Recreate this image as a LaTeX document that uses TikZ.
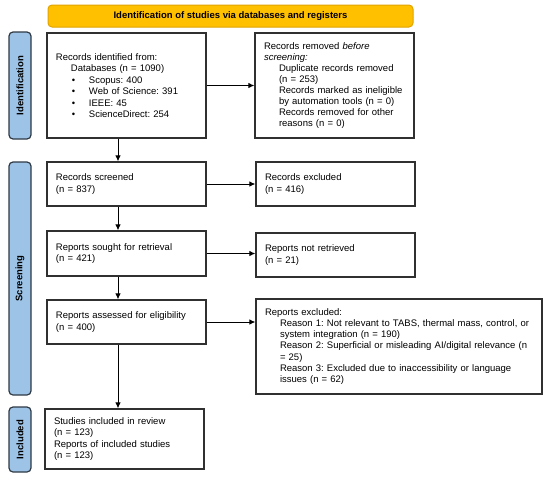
\documentclass[tikz,border=0pt]{standalone}
\usepackage{fontspec}
\setmainfont{Liberation Sans}
\usetikzlibrary{arrows.meta}
\definecolor{boxc}{HTML}{303030}
\definecolor{bannerfill}{HTML}{FFC000}
\definecolor{bannerdraw}{HTML}{E0A400}
\definecolor{sidefill}{HTML}{9DC3E6}
\definecolor{sidedraw}{HTML}{2F3A45}
\newcommand{\ind}{\hspace*{15pt}}
\newcommand{\bul}[1]{\hspace*{16pt}\makebox[17pt][l]{\textbullet}#1}
\frenchspacing
\begin{document}
\begin{tikzpicture}[x=1pt,y=-1pt,
  box/.style={draw=boxc, line width=1.2pt, inner xsep=9pt, inner ysep=2pt,
    align=left, text width=141pt, font=\fontsize{9.5}{11.3}\selectfont, anchor=center},
  side/.style={draw=sidedraw, fill=sidefill, line width=1.2pt, rounded corners=4pt,
    rotate=90, minimum height=22pt, inner sep=0pt, font=\bfseries\fontsize{9.5}{11}\selectfont, anchor=center},
  arr/.style={line width=1pt, -{Latex[length=6pt,width=5.5pt]}, draw=black}]
\useasboundingbox (0,0) rectangle (550,477);
\fill[white] (0,0) rectangle (550,477);
% banner
\node[draw=bannerdraw, fill=bannerfill, line width=1pt, rounded corners=4pt,
  minimum width=365pt, minimum height=22pt, inner sep=0pt,
  font=\bfseries\fontsize{9.5}{11}\selectfont] (banner) at (230.5,16)
  {Identification of studies via databases and registers};
% side labels
\node[side, minimum width=107pt] (sid) at (20,85.5) {Identification};
\node[side, minimum width=233pt] (sscr) at (20,278.5) {Screening};
\node[side, minimum width=65pt] (sinc) at (20,439.5) {Included};
% boxes
\node[box, minimum height=105pt, font=\fontsize{9.5}{11.5}\selectfont] (ident) at (126.5,85.5)
  {Records identified from:\\
   \ind Databases (n = 1090)\\
   \bul{Scopus: 400}\\
   \bul{Web of Science: 391}\\
   \bul{IEEE: 45}\\
   \bul{ScienceDirect: 254}};
\node[box, minimum height=105pt, font=\fontsize{9.5}{11.1}\selectfont] (removed) at (334.5,85.5)
  {Records removed \textit{before}\\
   \textit{screening:}\\
   \ind Duplicate records removed\\
   \ind (n = 253)\\
   \ind Records marked as ineligible\\
   \ind by automation tools (n = 0)\\
   \ind Records removed for other\\
   \ind reasons (n = 0)};
\node[box, minimum height=44pt] (screened) at (126.5,184)
  {Records screened\\(n = 837)};
\node[box, minimum height=44pt] (excluded) at (335.5,184)
  {Records excluded\\(n = 416)};
\node[box, minimum height=45pt] (sought) at (126.5,253.5)
  {Reports sought for retrieval\\(n = 421)};
\node[box, minimum height=44pt] (notret) at (335.5,255)
  {Reports not retrieved\\(n = 21)};
\node[box, minimum height=44pt] (assessed) at (126.5,322)
  {Reports assessed for eligibility\\(n = 400)};
\node[box, minimum height=95pt, text width=268pt] (rexcl) at (399,346.5)
  {Reports excluded:\\
   \ind Reason 1: Not relevant to TABS, thermal mass, control, or\\
   \ind system integration (n = 190)\\
   \ind Reason 2: Superficial or misleading AI/digital relevance (n\\
   \ind = 25)\\
   \ind Reason 3: Excluded due to inaccessibility or language\\
   \ind issues (n = 62)};
\node[box, minimum height=60pt, font=\fontsize{9.5}{11.2}\selectfont] (studies) at (124.5,439)
  {Studies included in review\\(n = 123)\\Reports of included studies\\(n = 123)};
% axis for vertical arrows
\coordinate (ax) at (118,0);
% arrows
\draw[arr] (ident.south -| ax) -- (screened.north -| ax);
\draw[arr] (screened.south -| ax) -- (sought.north -| ax);
\draw[arr] (sought.south -| ax) -- (assessed.north -| ax);
\draw[arr] (assessed.south -| ax) -- (studies.north -| ax);
\draw[arr] (ident.east) -- (ident.east -| removed.west);
\draw[arr] (screened.east) -- (screened.east -| excluded.west);
\draw[arr] (sought.east) -- (sought.east -| notret.west);
\draw[arr] (assessed.east) -- (assessed.east -| rexcl.west);
\end{tikzpicture}
\end{document}
